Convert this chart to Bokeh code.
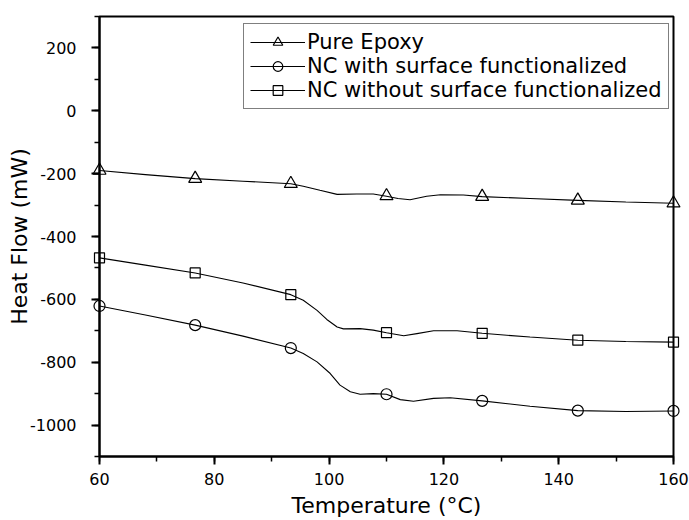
from bokeh.plotting import figure
from bokeh.models import SingleIntervalTicker, Legend, LegendItem, Range1d, PrintfTickFormatter
from bokeh.embed import file_html
from bokeh.resources import INLINE

# ---- data ----
marker_x = [60, 76.67, 93.33, 110, 126.67, 143.33, 160]

pure_curve_x = [60, 68, 76.67, 85, 93.33, 95.5, 98.4, 101.4, 104.8, 107.7, 110, 112,
                114.1, 117, 119.4, 123.4, 126.67, 135, 143.33, 151.7, 160]
pure_curve_y = [-190, -203, -216, -224, -232, -240, -253, -266, -265, -265, -272, -279,
                -283, -272, -267, -268, -273, -279, -285, -290, -294]
pure_marker_y = [-190, -216, -232, -271, -273, -285, -294]

with_curve_x = [60, 68, 76.67, 85, 93.33, 95.5, 97.9, 100.2, 101.9, 103.7, 105.4, 107.7,
                110, 112.4, 114.7, 118.2, 121.1, 126.67, 135, 143.33, 151.7, 160]
with_curve_y = [-621, -650, -682, -717, -755, -772, -799, -836, -873, -894, -902, -900,
                -902, -919, -924, -915, -913, -923, -940, -954, -957, -955]
with_marker_y = [-621, -682, -755, -902, -923, -954, -955]

without_curve_x = [60, 68, 76.67, 85, 93.33, 95.5, 97.9, 99.6, 101.4, 102.5, 105.4, 107.7,
                   110, 113, 115.3, 118.2, 122.3, 126.67, 135, 143.33, 151.7, 160]
without_curve_y = [-468, -491, -516, -548, -585, -603, -635, -664, -688, -694, -693, -698,
                   -706, -716, -709, -700, -700, -708, -720, -730, -734, -736]
without_marker_y = [-468, -516, -585, -706, -708, -730, -736]

labels = ["Pure Epoxy", "NC with surface functionalized", "NC without surface functionalized"]

FONT = "DejaVu Sans"

p = figure(width=689, height=520, x_range=Range1d(60, 160), y_range=Range1d(-1100, 300),
           output_backend="svg", toolbar_location=None,
           min_border_left=99, min_border_right=16, min_border_top=16, min_border_bottom=63)

p.xgrid.visible = False
p.ygrid.visible = False
p.outline_line_color = "black"
p.outline_line_width = 2
p.background_fill_color = "white"
p.border_fill_color = "white"

p.xaxis.ticker = SingleIntervalTicker(interval=20, num_minor_ticks=2)
p.yaxis.ticker = SingleIntervalTicker(interval=200, num_minor_ticks=2)
p.xaxis.formatter = PrintfTickFormatter(format="%d")
p.yaxis.formatter = PrintfTickFormatter(format="%d")

for ax in (p.xaxis[0], p.yaxis[0]):
    ax.axis_line_width = 2
    ax.axis_line_color = "black"
    ax.major_tick_in = 0
    ax.major_tick_out = 8
    ax.minor_tick_in = 0
    ax.minor_tick_out = 5
    ax.major_tick_line_width = 2
    ax.minor_tick_line_width = 1.5
    ax.major_label_text_font = FONT
    ax.major_label_text_font_size = "16px"
    ax.major_label_text_color = "black"
    ax.axis_label_text_font = FONT
    ax.axis_label_text_font_size = "22px"
    ax.axis_label_text_font_style = "normal"
    ax.axis_label_text_color = "black"

p.xaxis.axis_label = "Temperature (°C)"
p.yaxis.axis_label = "Heat Flow (mW)"
p.xaxis.major_label_standoff = 8
p.yaxis.major_label_standoff = 15
p.xaxis.axis_label_standoff = 5
p.yaxis.axis_label_standoff = -5

series = [
    (pure_curve_x, pure_curve_y, pure_marker_y, "triangle", 13),
    (with_curve_x, with_curve_y, with_marker_y, "circle", 11),
    (without_curve_x, without_curve_y, without_marker_y, "square", 10),
]

items = []
for (cx, cy, my, mk, sz), lab in zip(series, labels):
    lr = p.line(cx, cy, line_color="black", line_width=1.1)
    sr = p.scatter(marker_x, my, marker=mk, size=sz, line_color="black",
                   line_width=1.2, fill_alpha=0, level="overlay")
    items.append(LegendItem(label=lab, renderers=[lr, sr]))

legend = Legend(items=items, location=(144, 347))
legend.label_text_font = FONT
legend.label_text_font_size = "21px"
legend.label_text_color = "black"
legend.glyph_width = 55
legend.glyph_height = 24
legend.label_height = 24
legend.label_standoff = 2
legend.spacing = 0
legend.padding = 6
legend.margin = 0
legend.border_line_color = "black"
legend.border_line_width = 1
legend.background_fill_alpha = 1
p.add_layout(legend, "center")

open("out.html", "w").write(file_html(p, INLINE))
